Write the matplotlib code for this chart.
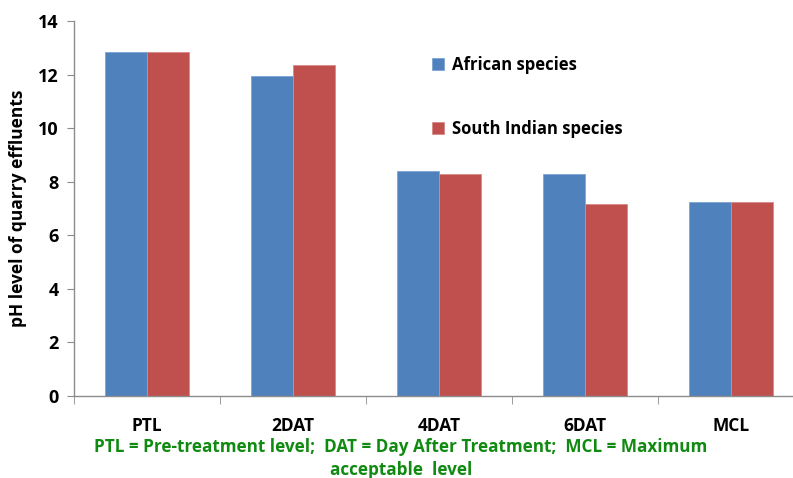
import numpy as np
import matplotlib
matplotlib.use('Agg')
import matplotlib.pyplot as plt

categories = ["PTL", "2DAT", "4DAT", "6DAT", "MCL"]
african = [12.84, 11.94, 8.41, 8.30, 7.23]
south_indian = [12.84, 12.37, 8.30, 7.18, 7.23]

BLUE = '#4f81bd'
RED = '#c0504d'
GREEN = '#118a11'
AXIS = '#8c8c8c'

plt.rcParams['font.family'] = ['Open Sans', 'DejaVu Sans']

fig = plt.figure(figsize=(7.93, 4.78), dpi=100, facecolor='white')
ax = fig.add_axes([74 / 793, 82 / 478, 730 / 793, 375 / 478])

x = np.arange(len(categories))
w = 0.2877
ax.bar(x - w / 2, african, width=w, color=BLUE, edgecolor='#7ea4d4', linewidth=0.6,
       label='African species')
ax.bar(x + w / 2, south_indian, width=w, color=RED, edgecolor='#d88a88', linewidth=0.6,
       label='South Indian species')

ax.set_xlim(-0.5, len(categories) - 0.5)
ax.set_ylim(0, 14)
ax.set_yticks(range(0, 15, 2))
ax.set_xticks(x)
ax.set_xticklabels(categories, fontsize=12.5, fontweight='bold')
ax.set_xticks(np.arange(-0.5, len(categories), 1.0), minor=True)
ax.tick_params(axis='x', which='major', length=0, pad=15)
ax.tick_params(axis='x', which='minor', length=6, color=AXIS, direction='out')
ax.tick_params(axis='y', length=5, color=AXIS, labelsize=13, pad=6)
for lab in ax.get_yticklabels():
    lab.set_fontweight('bold')

for sp in ['top', 'right']:
    ax.spines[sp].set_visible(False)
for sp in ['left', 'bottom']:
    ax.spines[sp].set_color(AXIS)
    ax.spines[sp].set_linewidth(1.0)

ax.set_ylabel("pH level of quarry effluents", fontsize=12.5, fontweight='bold', labelpad=8)

ax.legend(loc='upper left', bbox_to_anchor=(0.47, 0.947), frameon=False,
          prop={'weight': 'bold', 'size': 12},
          handlelength=0.7, handleheight=0.7, handletextpad=0.5, labelspacing=2.75)

fig.text(401 / 793, 1 - 447 / 478,
         "PTL = Pre-treatment level;  DAT = Day After Treatment;  MCL = Maximum",
         ha='center', va='center', color=GREEN, fontsize=12.3, fontweight='bold')
fig.text(401 / 793, 1 - 470 / 478, "acceptable  level",
         ha='center', va='center', color=GREEN, fontsize=12.3, fontweight='bold')

fig.savefig("out.png", dpi=100, facecolor='white')
